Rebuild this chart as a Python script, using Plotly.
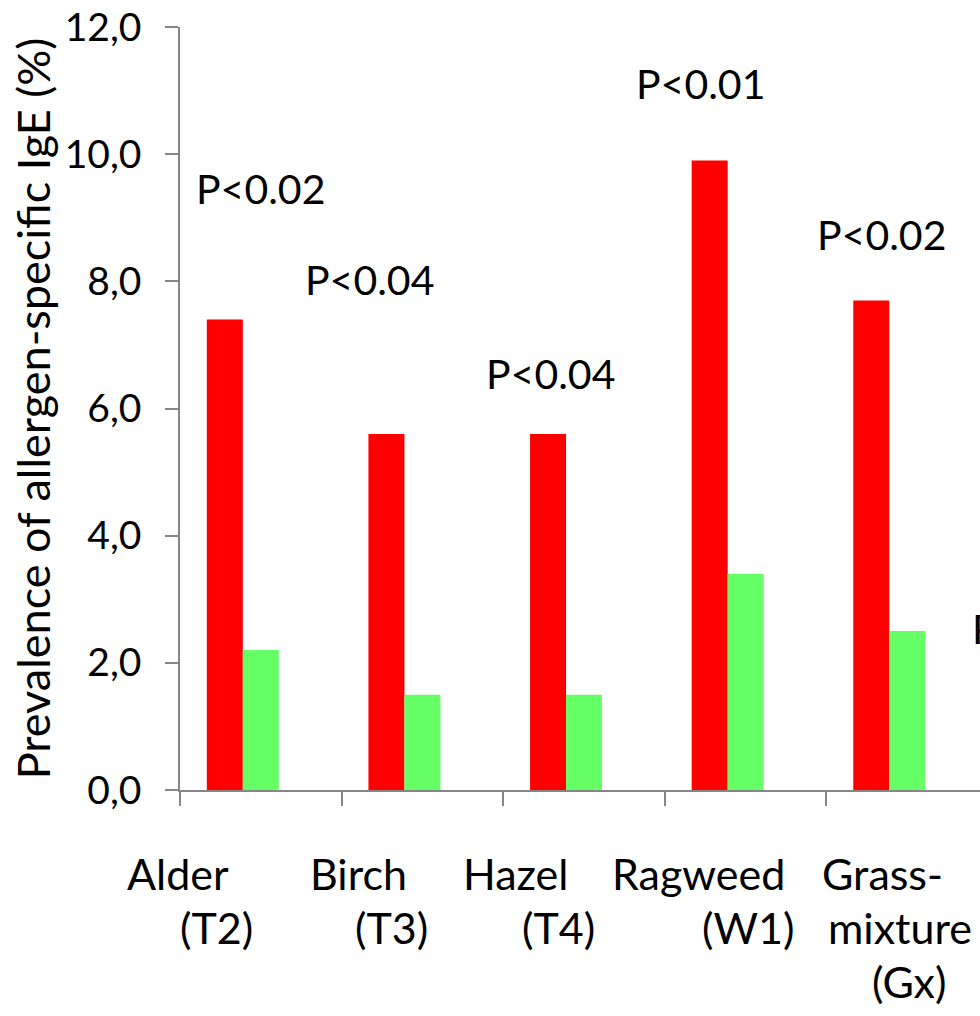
import plotly.graph_objects as go

# ---- data ----
categories = ["Alder (T2)", "Birch (T3)", "Hazel (T4)", "Ragweed (W1)", "Grass-mixture (Gx)"]
label_lines = [["Alder", "(T2)"], ["Birch", "(T3)"], ["Hazel", "(T4)"],
               ["Ragweed", "(W1)"], ["Grass-", "mixture", "(Gx)"]]
group_red = [7.4, 5.6, 5.6, 9.9, 7.7]
group_green = [2.2, 1.5, 1.5, 3.4, 2.5]
p_texts = ["P<0.02", "P<0.04", "P<0.04", "P<0.01", "P<0.02", "P"]
p_x = [0.0, 0.67, 1.79, 2.72, 3.84, 4.39]
p_y = [9.46, 8.03, 6.55, 11.11, 8.74, 2.54]
y_ticks = [0, 2, 4, 6, 8, 10, 12]

# ---- category label layout (per-line horizontal offset from category centre, px) ----
line_dx = [[-83, -44], [-64, -31], [-69, -26], [-47, 2], [-25, -7, 2]]
line_dy = [-83, -137, -191]  # px below the x axis line, per line index

FONT = "Lato"
AXIS_COL = "#868686"

fig = go.Figure()
fig.add_trace(go.Bar(x=categories, y=group_red, marker=dict(color="#FF0000", line=dict(width=0)), name="A"))
fig.add_trace(go.Bar(x=categories, y=group_green, marker=dict(color="#66FF66", line=dict(width=0)), name="B"))
fig.add_trace(go.Bar(x=categories, y=[None] * len(categories), marker=dict(color="#FFFFFF"), name="C"))

# significance labels
for i, (t, x, y) in enumerate(zip(p_texts, p_x, p_y)):
    fig.add_annotation(x=x, y=y, xref="x", yref="y", text=t, showarrow=False,
                       xanchor="left" if i == len(p_texts) - 1 else "center", yanchor="middle",
                       font=dict(family=FONT, size=41, color="black"))

# category labels (multi-line, each line placed like the original)
for ci, (lines, dxs) in enumerate(zip(label_lines, line_dx)):
    for li, (s, dx) in enumerate(zip(lines, dxs)):
        fig.add_annotation(x=categories[ci], y=0, xref="x", yref="paper", text=s, showarrow=False,
                           xanchor="center", yanchor="middle", xshift=dx, yshift=line_dy[li],
                           font=dict(family=FONT, size=43, color="black"))

fig.update_layout(
    width=980, height=1016,
    margin=dict(l=180, r=0, t=27, b=226, autoexpand=False),
    paper_bgcolor="white", plot_bgcolor="white",
    barmode="group", bargap=0.332, bargroupgap=0,
    showlegend=False,
    separators=",.",
    font=dict(family=FONT, color="black"),
)
fig.update_xaxes(
    type="category", range=[-0.5, 4.45], automargin=False,
    showticklabels=False,
    tickson="boundaries", ticks="outside", ticklen=14, tickcolor=AXIS_COL, tickwidth=1.5,
    showline=True, linecolor=AXIS_COL, linewidth=1.5, showgrid=False,
)
fig.update_yaxes(
    range=[0, 12], tickvals=y_ticks, tickformat=".1f", automargin=False,
    ticks="outside", ticklen=13, tickcolor=AXIS_COL, tickwidth=1.5,
    showline=True, linecolor=AXIS_COL, linewidth=1.5, showgrid=False, zeroline=False,
    tickfont=dict(family=FONT, size=39, color="black"),
    title=dict(text="Prevalence of allergen-specific IgE (%)", font=dict(family=FONT, size=45, color="black"), standoff=0),
    ticklabelstandoff=16,
)

fig.write_html("out.html")
